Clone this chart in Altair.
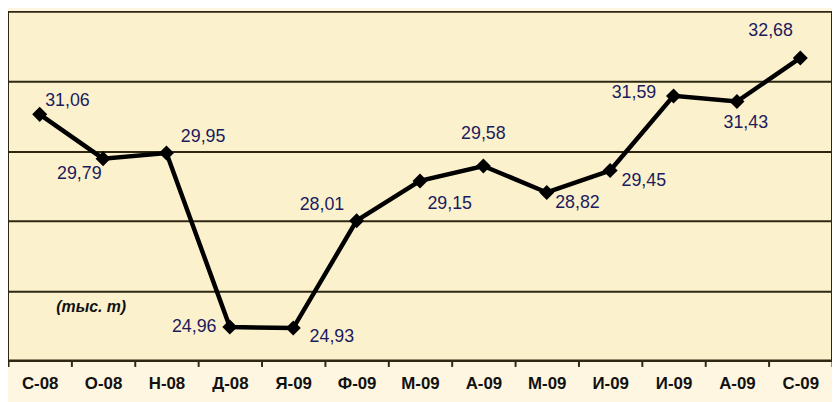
import altair as alt
import pandas as pd

# Data
months = ["С-08", "О-08", "Н-08", "Д-08", "Я-09", "Ф-09", "М-09",
          "А-09", "М-09", "И-09", "И-09", "А-09", "С-09"]
values = [31.06, 29.79, 29.95, 24.96, 24.93, 28.01, 29.15,
          29.58, 28.82, 29.45, 31.59, 31.43, 32.68]
grid_values = [26, 28, 30, 32]
unit_label = "(тыс. т)"

# Label placement offsets (pixels) relative to each point
label_dx = [28, -24, 37, -36, 39, -35, 30, 0, 31, 34, -40, 9, -30]
label_dy = [-13, 16, -16, 0, 9, -16, 23, -32, 11, 11, -3, 22, -27]

df = pd.DataFrame({
    "idx": [str(i) for i in range(len(months))],
    "month": months,
    "value": values,
})

label_array = "[" + ",".join("'" + m + "'" for m in months) + "]"
dark = "#2e2812"
navy = "#1b1b5e"

x_enc = alt.X(
    "idx:N",
    sort=None,
    scale=alt.Scale(paddingInner=0, paddingOuter=0),
    axis=alt.Axis(
        title=None,
        labelExpr=label_array + "[toNumber(datum.value)]",
        labelAngle=0,
        labelFont="Liberation Sans",
        labelFontSize=17,
        labelFontWeight="bold",
        labelColor="#111111",
        labelPadding=9,
        tickBand="extent",
        tickSize=6,
        tickWidth=2,
        tickColor=dark,
        domainColor=dark,
        domainWidth=2,
        grid=False,
    ),
)
y_enc = alt.Y(
    "value:Q",
    scale=alt.Scale(domain=[24, 34], nice=False, zero=False),
    axis=alt.Axis(
        title=None,
        labels=False,
        ticks=False,
        domain=False,
        grid=True,
        values=grid_values,
        gridColor=dark,
        gridWidth=2,
        gridOpacity=1,
    ),
)

base = alt.Chart(df)

line = base.mark_line(color="black", strokeWidth=4.5).encode(x=x_enc, y=y_enc)
points = base.mark_point(
    shape="diamond", filled=True, color="black", size=230, opacity=1
).encode(x=x_enc, y=y_enc)

labels = []
for i in range(len(months)):
    t = base.transform_filter(
        alt.datum.idx == str(i)
    ).transform_calculate(
        lbl="replace(format(datum.value, '.2f'), '.', ',')"
    ).mark_text(
        font="Liberation Sans",
        fontSize=18,
        color=navy,
        align="center",
        baseline="middle",
        dx=label_dx[i],
        dy=label_dy[i],
    ).encode(x=x_enc, y=y_enc, text="lbl:N")
    labels.append(t)

unit = alt.Chart(pd.DataFrame({"t": [unit_label]})).mark_text(
    font="Liberation Sans",
    fontSize=16,
    fontStyle="italic",
    fontWeight="bold",
    color="#111111",
    align="center",
    baseline="middle",
).encode(x=alt.value(84), y=alt.value(298), text="t:N")

chart = alt.layer(line, points, *labels, unit).properties(
    width=832,
    height=352,
    padding={"left": 0, "top": 2, "right": 0, "bottom": 40},
    autosize=alt.AutoSizeParams(type="none"),
    background="#FEF6E0",
).configure_view(
    fill="#FCF1CD",
    stroke=dark,
    strokeWidth=2,
)

chart.save("out.html", embed_options={"renderer": "svg", "actions": False})
